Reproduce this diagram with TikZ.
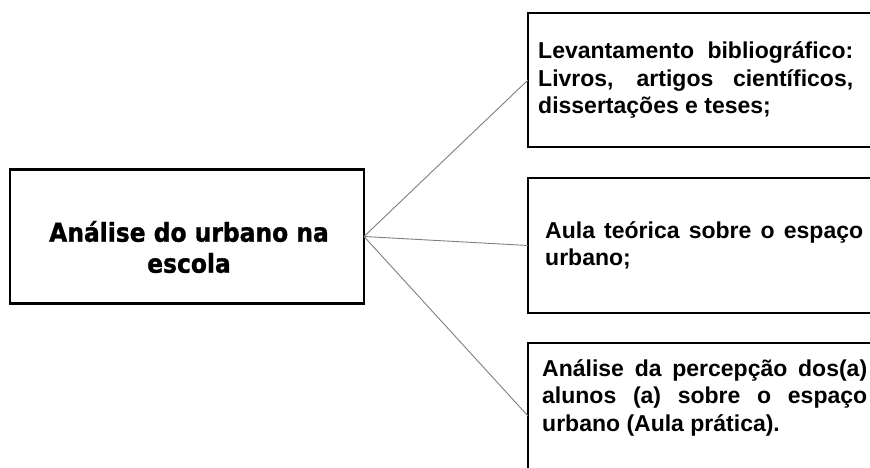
\documentclass[tikz,border=0pt]{standalone}
\usepackage{fontspec}
\setmainfont{Liberation Sans}
\newfontfamily\headfont[FakeStretch=0.9,BoldFeatures={FakeBold=1.2}]{DejaVu Sans}
\hyphenpenalty=10000
\exhyphenpenalty=10000
\tolerance=9999
\begin{document}
\begin{tikzpicture}[x=1pt,y=-1pt,
  box/.style={draw=black,line width=2.8pt,rectangle,inner sep=0pt,outer sep=0pt,fill=white},
  conn/.style={draw=black!50,line width=0.9pt},
  rtext/.style={anchor=west,align=justify,inner sep=0pt,
     font=\fontsize{23}{27.5}\selectfont\bfseries},
  ltext/.style={align=center,inner sep=0pt,font=\headfont\fontsize{26}{31}\selectfont\bfseries}]
\useasboundingbox (0,0) rectangle (870,468);
\clip (0,0) rectangle (870,468);
\fill[white] (0,0) rectangle (870,468);
\node[box,minimum width=354pt,minimum height=134pt] (L) at (187,236.5) {};
\node[box,minimum width=352pt,minimum height=134pt] (b1) at (704,80) {};
\node[box,minimum width=352pt,minimum height=135pt] (b2) at (704,245.5) {};
\node[box,minimum width=352pt,minimum height=146pt] (b3) at (704,416) {};
\node[ltext] (lt) at (189,247) {Análise do urbano na\\escola};
\node[rtext,text width=315pt] (t1) at ([xshift=10pt]b1.west) {Levantamento bibliográfico: Livros, artigos científicos, dissertações e teses;};
\node[rtext,text width=318pt] (t2) at ([xshift=17pt]b2.west) {Aula teórica sobre o espaço urbano;};
\node[rtext,text width=325pt,anchor=north west] (t3) at ([xshift=14pt,yshift=-16pt]b3.north west) {Análise da percepção dos(a) alunos (a) sobre o espaço urbano (Aula prática).};
\draw[conn] (L.east) -- (b1.west);
\draw[conn] (L.east) -- (b2.west);
\draw[conn] (L.east) -- (b3.west);
\end{tikzpicture}
\end{document}
